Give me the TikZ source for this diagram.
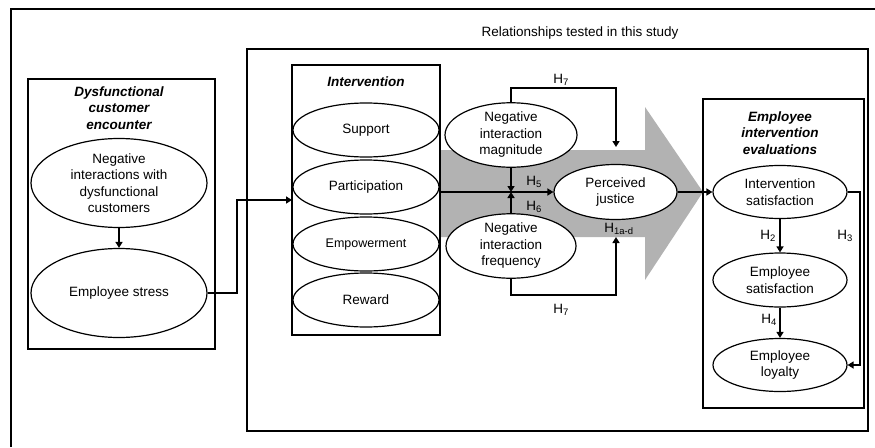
\documentclass[tikz,border=0pt]{standalone}
\usepackage{fontspec}
\setmainfont{Liberation Sans}
\usetikzlibrary{shapes.geometric,arrows.meta,calc}
\tikzset{
  base/.style={font=\fontsize{13.5}{16.5}\selectfont},
  oval/.style={base,draw,ellipse,fill=white,line width=1.2pt,inner sep=0pt,align=center},
  frame/.style={draw,line width=1.2pt,inner sep=0pt},
  bigframe/.style={draw,line width=2.2pt,inner sep=0pt},
  head/.style={base,font=\fontsize{13.5}{16.5}\selectfont\bfseries\itshape,align=center},
  lab/.style={base,inner sep=1pt},
  conn/.style={line width=1.8pt,-{Triangle[length=6pt,width=7pt]}},
}
\begin{document}
\begin{tikzpicture}[x=1pt,y=-1pt]
\useasboundingbox (0,0) rectangle (875,447);
% outer frame
\draw[line width=2.2pt] (11,447) -- (11,9) -- (875,9);
% big frame
\node[bigframe,minimum width=621pt,minimum height=382pt] (big) at (557.5,240) {};
\node[base] (rel) at (580,33) {Relationships tested in this study};
% gray arrow
\fill[black!30] (440,150) -- (645,150) -- (645,107) -- (703,192) -- (645,280) -- (645,237) -- (440,237) -- cycle;
% boxes
\node[frame,minimum width=187pt,minimum height=270pt] (dbox) at (121.5,214) {};
\node[frame,minimum width=148pt,minimum height=270pt] (intv) at (366,200) {};
\node[frame,minimum width=161pt,minimum height=309pt] (ebox) at (783.5,253.5) {};
% headers
\node[head] (dh) at (119,108) {Dysfunctional\\customer\\encounter};
\node[head] (ih) at (366,82) {Intervention};
\node[head] (eh) at (780,133) {Employee\\intervention\\evaluations};
% ellipses left
\node[oval,minimum width=176pt,minimum height=89pt] (neg) at (119,183) {Negative\\interactions with\\dysfunctional\\customers};
\node[oval,minimum width=176pt,minimum height=89pt] (stress) at (119,293) {Employee stress};
% intervention ellipses
\node[oval,minimum width=146pt,minimum height=54pt] (sup) at (366,130) {Support};
\node[oval,minimum width=146pt,minimum height=54pt] (par) at (366,187) {Participation};
\node[oval,minimum width=146pt,minimum height=54pt,font=\fontsize{12.5}{15}\selectfont] (emp) at (366,244) {Empowerment};
\node[oval,minimum width=146pt,minimum height=54pt] (rew) at (366,300) {Reward};
% moderators
\node[oval,minimum width=132pt,minimum height=50pt] (mag) at (511,135) {Negative\\interaction\\magnitude};
\node[oval,minimum width=130pt,minimum height=52pt] (freq) at (511,246) {Negative\\interaction\\frequency};
\node[oval,minimum width=123pt,minimum height=55pt] (pj) at (615.5,192) {Perceived\\justice};
% evaluations
\node[oval,minimum width=134pt,minimum height=53pt] (is) at (780,192) {Intervention\\satisfaction};
\node[oval,minimum width=134pt,minimum height=54pt] (es) at (780,280) {Employee\\satisfaction};
\node[oval,minimum width=134pt,minimum height=53pt] (loy) at (780,365) {Employee\\loyalty};
% coordinates
\coordinate (s1) at (237,250);
\coordinate (pin) at (292,200);
\coordinate (t1) at (616,88);
\coordinate (t2) at (616,147);
\coordinate (b1) at (616,295);
\coordinate (b2) at (616,237);
\coordinate (h3c) at (860,280);
\coordinate (cross) at (mag |- pj);
% connectors
\draw[conn] (neg.south) -- (stress.north);
\draw[conn] (stress.east) -| (s1) |- (pin);
\draw[conn] (intv.east |- pj.west) -- (pj.west);
\draw[conn] (mag.south) -- (cross);
\draw[conn] (freq.north) -- (cross);
\draw[conn] (mag.north) |- (t1) -- (t2);
\draw[conn] (freq.south) |- (b1) -- (b2);
\draw[conn] (pj.east) -- (is.west);
\draw[conn] (is.south) -- (es.north);
\draw[conn] (es.south) -- (loy.north);
\draw[conn] (is.east) -| (h3c) |- (loy.east);
% labels
\node[lab] (h5) at (534,182) {H\textsubscript{5}};
\node[lab] (h6) at (534,207) {H\textsubscript{6}};
\node[lab] (h1) at (619,229) {H\textsubscript{1a-d}};
\node[lab] (h7a) at (561,80) {H\textsubscript{7}};
\node[lab] (h7b) at (561,310) {H\textsubscript{7}};
\node[lab] (h2) at (768,236) {H\textsubscript{2}};
\node[lab] (h3) at (845,236) {H\textsubscript{3}};
\node[lab] (h4) at (769,320) {H\textsubscript{4}};
\end{tikzpicture}
\end{document}
